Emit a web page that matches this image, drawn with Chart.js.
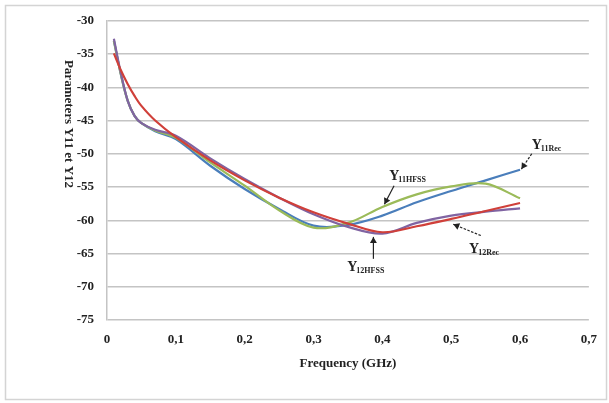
<!DOCTYPE html>
<html>
<head>
<meta charset="utf-8">
<script src="https://cdn.jsdelivr.net/npm/chart.js@4/dist/chart.umd.min.js"></script>
<style>
  html, body { margin: 0; padding: 0; background: #fff; }
  #wrap { width: 609px; height: 403px; position: relative; }
</style>
</head>
<body>
<div id="wrap"><canvas id="chart"></canvas></div>
<script>
// Frequency samples (GHz)
var freq = [0.01, 0.02, 0.03, 0.04, 0.05, 0.07, 0.1, 0.15, 0.2, 0.25, 0.3, 0.35, 0.4, 0.45, 0.5, 0.55, 0.6];

// Series
var y11Rec  = [-33.0, -38.0, -42.0, -44.3, -45.4, -46.6, -47.8, -51.8, -55.3, -58.3, -60.8, -60.7, -59.3, -57.3, -55.6, -54.0, -52.4];
var y11Hfss = [-33.0, -38.0, -42.0, -44.3, -45.4, -46.5, -47.6, -51.3, -54.8, -58.5, -61.1, -60.4, -58.0, -56.1, -54.9, -54.5, -56.7];
var y12Hfss = [-34.9, -37.4, -39.5, -41.3, -42.8, -45.0, -47.5, -51.0, -54.0, -56.6, -58.8, -60.5, -61.8, -60.9, -59.8, -58.6, -57.4];
var y12Rec  = [-32.7, -37.8, -42.0, -44.3, -45.4, -46.4, -47.3, -50.7, -53.8, -56.6, -59.1, -61.0, -62.0, -60.4, -59.3, -58.7, -58.2];

var xTicks = [0, 0.1, 0.2, 0.3, 0.4, 0.5, 0.6, 0.7];
var yTicks = [-30, -35, -40, -45, -50, -55, -60, -65, -70, -75];

// Curve labels: main letter, subscript, text anchor and arrow (data units)
var labels = [
    { main: "Y", sub: "11Rec",  tx: 0.617, ty: -49.3, ax1: 0.617, ay1: -50.0, ax2: 0.602, ay2: -52.3, dashed: true },
    { main: "Y", sub: "11HFSS", tx: 0.410, ty: -54.0, ax1: 0.417, ay1: -54.8, ax2: 0.403, ay2: -57.6, dashed: false },
    { main: "Y", sub: "12HFSS", tx: 0.349, ty: -67.7, ax1: 0.387, ay1: -65.8, ax2: 0.387, ay2: -62.5, dashed: false },
    { main: "Y", sub: "12Rec",  tx: 0.526, ty: -64.9, ax1: 0.543, ay1: -62.3, ax2: 0.503, ay2: -60.6, dashed: true }
];

function pts(ys) {
    return freq.map(function (f, i) { return { x: f, y: ys[i] }; });
}

var SERIF = "'Liberation Serif', 'DejaVu Serif', serif";

function arrow(ctx, x1, y1, x2, y2, dashed) {
    ctx.save();
    ctx.strokeStyle = "#222";
    ctx.fillStyle = "#222";
    ctx.lineWidth = 1.2;
    if (dashed) ctx.setLineDash([2.5, 1.5]);
    ctx.beginPath();
    ctx.moveTo(x1, y1);
    ctx.lineTo(x2, y2);
    ctx.stroke();
    ctx.setLineDash([]);
    var a = Math.atan2(y2 - y1, x2 - x1);
    var L = 6, W = 3.5;
    ctx.beginPath();
    ctx.moveTo(x2, y2);
    ctx.lineTo(x2 - L * Math.cos(a) + W * Math.sin(a), y2 - L * Math.sin(a) - W * Math.cos(a));
    ctx.lineTo(x2 - L * Math.cos(a) - W * Math.sin(a), y2 - L * Math.sin(a) + W * Math.cos(a));
    ctx.closePath();
    ctx.fill();
    ctx.restore();
}

var decor = {
    id: "decor",
    beforeDraw: function (chart) {
        var ctx = chart.ctx;
        ctx.save();
        ctx.fillStyle = "#fff";
        ctx.fillRect(0, 0, chart.width, chart.height);
        ctx.strokeStyle = "#d4d4d4";
        ctx.lineWidth = 1.5;
        ctx.strokeRect(5.5, 5.5, 601, 394);
        ctx.restore();
    },
    afterDraw: function (chart) {
        var ctx = chart.ctx;
        var xs = chart.scales.x, ys = chart.scales.y;
        ctx.save();
        ctx.fillStyle = "#222";

        // axis titles
        ctx.font = "bold 13px " + SERIF;
        ctx.textAlign = "center";
        ctx.textBaseline = "middle";
        ctx.fillText("Frequency (GHz)", 348, 364);

        ctx.save();
        ctx.translate(68, 124);
        ctx.rotate(Math.PI / 2);
        ctx.font = "bold 13px " + SERIF;
        ctx.fillText("Parameters Y11 et Y12", 0, 0);
        ctx.restore();

        // curve labels
        labels.forEach(function (l) {
            var px = xs.getPixelForValue(l.tx), py = ys.getPixelForValue(l.ty);
            ctx.textAlign = "left";
            ctx.textBaseline = "alphabetic";
            ctx.font = "bold 14px " + SERIF;
            ctx.fillText(l.main, px, py);
            var w = ctx.measureText(l.main).width;
            ctx.font = "bold 8px " + SERIF;
            ctx.fillText(l.sub, px + w - 1, py + 2);
            arrow(ctx,
                xs.getPixelForValue(l.ax1), ys.getPixelForValue(l.ay1),
                xs.getPixelForValue(l.ax2), ys.getPixelForValue(l.ay2), l.dashed);
        });
        ctx.restore();
    }
};

function series(label, ys, color) {
    return {
        label: label,
        data: pts(ys),
        borderColor: color,
        backgroundColor: color,
        borderWidth: 2.2,
        pointRadius: 0,
        fill: false,
        tension: 0.35
    };
}

var ctx = document.getElementById("chart").getContext("2d");
var myChart = new Chart(ctx, {
    type: "line",
    data: {
        // first dataset ends up on top
        datasets: [
            series("Y12HFSS", y12Hfss, "#d0403a"),
            series("Y12Rec", y12Rec, "#8064a2"),
            series("Y11HFSS", y11Hfss, "#9bbb59"),
            series("Y11Rec", y11Rec, "#4a7ebb")
        ]
    },
    options: {
        responsive: true,
        maintainAspectRatio: false,
        animation: false,
        devicePixelRatio: 1,
        layout: { padding: { left: 0, top: 20, right: 19, bottom: 0 } },
        plugins: {
            legend: { display: false },
            tooltip: { enabled: false }
        },
        scales: {
            x: {
                type: "linear",
                min: 0,
                max: 0.7,
                afterBuildTicks: function (s) { s.ticks = xTicks.map(function (v) { return { value: v }; }); },
                afterFit: function (s) { s.height = 83; },
                grid: { display: false, drawTicks: false },
                border: { display: false },
                ticks: {
                    padding: 12,
                    color: "#222",
                    font: { family: SERIF, size: 13, weight: "bold" },
                    maxRotation: 0,
                    callback: function (v) { return String(Math.round(v * 10) / 10).replace(".", ","); }
                }
            },
            y: {
                min: -75,
                max: -30,
                afterBuildTicks: function (s) { s.ticks = yTicks.map(function (v) { return { value: v }; }); },
                afterFit: function (s) { s.width = 107; },
                grid: { color: "#c4c4c4", lineWidth: 1.5, drawTicks: false },
                border: { display: true, color: "#c4c4c4", width: 1.5 },
                ticks: {
                    padding: 13,
                    color: "#222",
                    font: { family: SERIF, size: 13, weight: "bold" }
                }
            }
        }
    },
    plugins: [decor]
});
</script>
</body>
</html>
